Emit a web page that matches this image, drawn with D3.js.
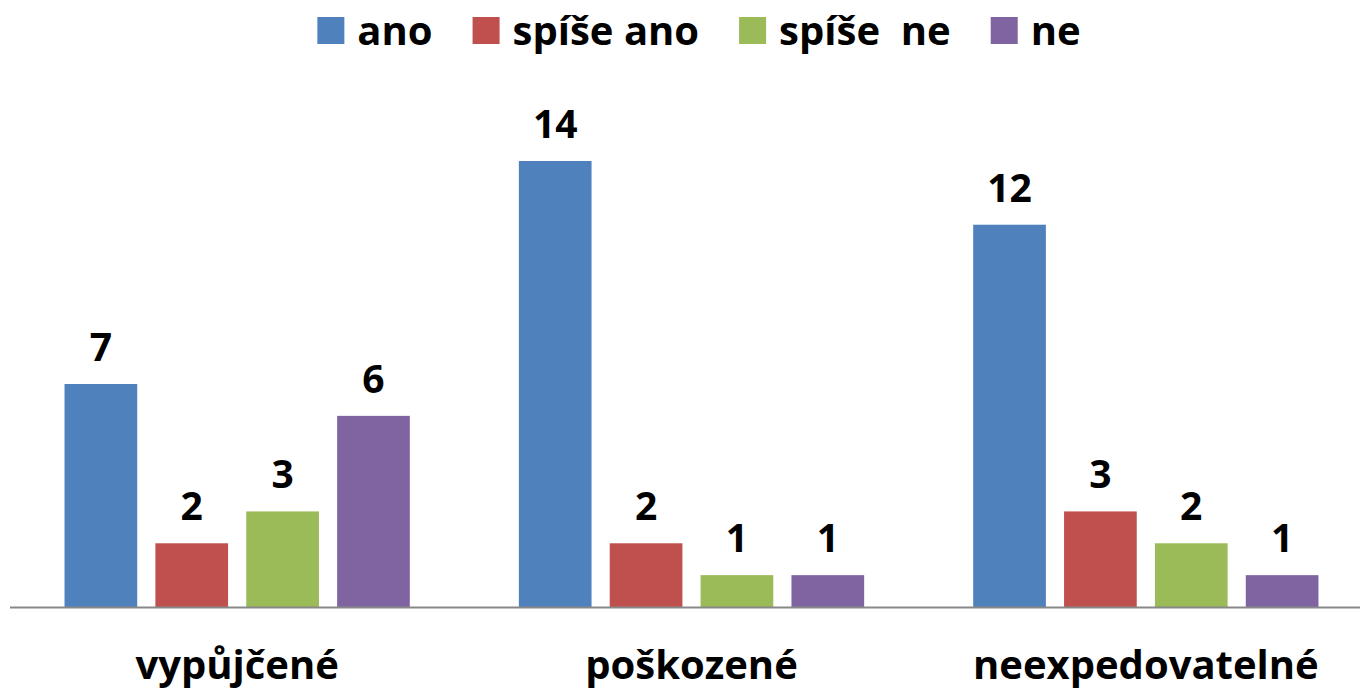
<!DOCTYPE html>
<html>
<head>
<meta charset="utf-8">
<script src="https://cdn.jsdelivr.net/npm/d3@7"></script>
<style>
  body { margin: 0; background: #fff; }
  text { font-family: "Open Sans", Lato, sans-serif; font-weight: 700; fill: #000; }
</style>
</head>
<body>
<div id="viz"></div>
<script>
const categories = ["vypůjčené", "poškozené", "neexpedovatelné"];
const seriesNames = ["ano", "spíše ano", "spíše  ne", "ne"];
const ano = [7, 14, 12];
const spiseAno = [2, 2, 3];
const spiseNe = [3, 1, 2];
const ne = [6, 1, 1];
const colors = ["#4f81bd", "#c0504d", "#9bbb59", "#8064a2"];

const series = [ano, spiseAno, spiseNe, ne];

document.addEventListener("DOMContentLoaded", () => {
  const width = 1360;
  const height = 691;

  const svg = d3.select("#viz")
    .append("svg")
    .attr("width", width)
    .attr("height", height);

  const baseY = 607;

  const x0 = d3.scaleBand()
    .domain(categories)
    .range([10, 1373])
    .paddingInner(0)
    .paddingOuter(0);

  const x1 = d3.scaleBand()
    .domain(d3.range(seriesNames.length))
    .range([0, x0.bandwidth()])
    .paddingInner(0.2)
    .paddingOuter(0.6);

  const y = d3.scaleLinear()
    .domain([0, 14])
    .range([baseY, 161]);

  const rows = [];
  categories.forEach((c, i) => {
    series.forEach((s, j) => rows.push({ cat: c, s: j, v: s[i] }));
  });

  svg.append("g")
    .selectAll("rect")
    .data(rows)
    .join("rect")
      .attr("x", d => x0(d.cat) + x1(d.s))
      .attr("y", d => y(d.v))
      .attr("width", x1.bandwidth())
      .attr("height", d => baseY - y(d.v))
      .attr("fill", d => colors[d.s]);

  svg.append("g")
    .selectAll("text")
    .data(rows)
    .join("text")
      .attr("x", d => x0(d.cat) + x1(d.s) + x1.bandwidth() / 2)
      .attr("y", d => y(d.v) - 23)
      .attr("text-anchor", "middle")
      .style("font-size", "39px")
      .text(d => d.v);

  // axis line
  svg.append("line")
    .attr("x1", 10).attr("x2", width)
    .attr("y1", baseY + 0.5).attr("y2", baseY + 0.5)
    .attr("stroke", "#888")
    .attr("stroke-width", 2);

  svg.append("g")
    .selectAll("text")
    .data(categories)
    .join("text")
      .attr("x", d => x0(d) + x0.bandwidth() / 2)
      .attr("y", 679)
      .attr("text-anchor", "middle")
      .style("font-size", "40px")
      .text(d => d);

  // legend
  const legend = svg.append("g");
  const items = legend.selectAll("g")
    .data(seriesNames)
    .join("g");
  items.append("rect")
    .attr("width", 27).attr("height", 27)
    .attr("y", 17)
    .attr("fill", (d, i) => colors[i]);
  items.append("text")
    .attr("x", 40)
    .attr("y", 45)
    .style("font-size", "40px")
    .style("white-space", "pre")
    .attr("xml:space", "preserve")
    .text(d => d);

  let cx = 0;
  items.each(function () {
    const w = d3.select(this).select("text").node().getComputedTextLength();
    d3.select(this).attr("transform", `translate(${cx},0)`);
    cx += 40 + w + 40;
  });
  const total = cx - 40;
  legend.attr("transform", `translate(${699 - total / 2},0)`);
});
</script>
</body>
</html>
